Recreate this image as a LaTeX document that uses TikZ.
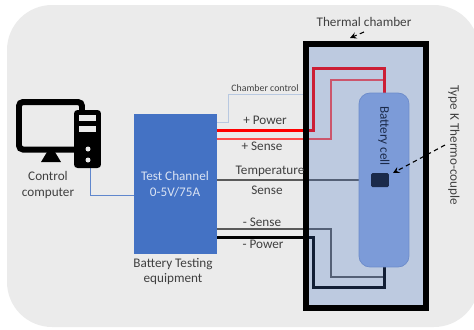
\documentclass[tikz,border=0pt]{standalone}
\usepackage{fontspec}
\setmainfont{Carlito}
\usepackage{xcolor}
\usetikzlibrary{calc, backgrounds}

\definecolor{panelgray}{HTML}{EBEBEB}
\definecolor{boxblue}{HTML}{4472C4}
\definecolor{cellblue}{HTML}{7C9BD8}
\definecolor{celledge}{HTML}{6D8CCB}
\definecolor{sensornavy}{HTML}{1B2A4A}
\definecolor{textgray}{HTML}{404040}
\definecolor{ctrlblue}{HTML}{B8C8E0}
\definecolor{senseline}{HTML}{5A5A5A}

\tikzset{
	lbl/.style = {font = \fontsize{7.5}{9.1}\selectfont, text = textgray, inner sep = 0pt, align = center},
	power wire/.style = {line width = 0.06cm},
	sense wire/.style = {line width = 0.035cm},
	hint/.style = {-stealth, dash pattern = on 0.09cm off 0.07cm, line width = 0.022cm, black}
}

\begin{document}
\begin{tikzpicture}[x = 0.02cm, y = -0.02cm]
			\def\xMAX{474};
			\def\yMAX{329};

			\useasboundingbox (0,0) rectangle (\xMAX,\yMAX);
			\clip (0,0) rectangle (\xMAX,\yMAX);

			% boxes
			\node [fill = boxblue, minimum width = 1.66cm, minimum height = 2.8cm, inner sep = 0pt] (test) at (175.5,184) {};
			\node [fill = black, rounded corners = 0.07cm, minimum width = 0.54cm, minimum height = 1.16cm, inner sep = 0pt] (tower) at (87.5,139) {};
			\node [fill = boxblue, fill opacity = 0.27, draw = black, draw opacity = 1, line width = 0.12cm, minimum width = 2.4cm, minimum height = 5.28cm, inner sep = 0pt] (chamber) at (366,176) {};
			\node [fill = cellblue, draw = celledge, line width = 0.015cm, rounded corners = 0.22cm, minimum width = 1cm, minimum height = 3.48cm, inner sep = 0pt] (cell) at (384,180) {};
			\node [fill = sensornavy, rounded corners = 0.03cm, minimum width = 0.36cm, minimum height = 0.28cm, inner sep = 0pt] (sensor) at (380,180) {};

			% computer
			\draw [black, line width = 0.12cm, rounded corners = 0.08cm] (74,149.5) -- (19,149.5) -- (19,102) -- (82,102) -- (82,112);
			\fill [black] (47,152) -- (55,152) -- (61,162) -- (41,162) -- cycle;
			\fill [panelgray] (79,115) rectangle (96,121);
			\fill [panelgray] (79,126) rectangle (96,132);
			\fill [panelgray] (88,149) circle (2.5);
			\fill [panelgray] (88,160) circle (2.5);

			% labels
			\node [lbl] (pcLbl) at (48,185) {Control\\computer};
			\node [lbl, text = white!80!boxblue] (testLbl) at (175,184.5) {Test Channel\\0-5V/75A};
			\node [lbl] (equipLbl) at (173,271.5) {Battery Testing\\equipment};
			\node [lbl, font = \fontsize{5.6}{7}\selectfont] (ctrlLbl) at (265,88) {Chamber control};
			\node [lbl] (plusPower) at (265,120) {+ Power};
			\node [lbl] (plusSense) at (262,146) {+ Sense};
			\node [lbl] (tempLbl) at (270,171) {Temperature};
			\node [lbl] (senseLbl) at (267,190) {Sense};
			\node [lbl] (minusSense) at (262,222) {- Sense};
			\node [lbl] (minusPower) at (263,244) {- Power};
			\node [lbl] (chamberLbl) at (364,22) {Thermal chamber};
			\node [lbl, rotate = -90] (typeLbl) at (454,145) {Type K Thermo-couple};
			\node [lbl, rotate = -90, text = sensornavy] (cellLbl) at (384,136) {Battery cell};

			\coordinate (powerOut) at (217,130);
			\coordinate (powerTurn) at (313,68);
			\coordinate (senseOut) at (217,139);
			\coordinate (senseTurn) at (331,80);
			\coordinate (minusSenseOut) at (217,229);
			\coordinate (minusSenseTurn) at (331,277);
			\coordinate (minusPowerOut) at (217,237);
			\coordinate (minusPowerTurn) at (313,287);
			\coordinate (ctrlOut) at (217,122);
			\coordinate (ctrlTurn) at (228,94);
			\coordinate (pcPin) at (90,168);
			\coordinate (pcIn) at (134,195);
			\coordinate (chamberFrom) at (364,32);
			\coordinate (chamberTo) at (350,38);
			\coordinate (typeFrom) at (445,145);
			\coordinate (typeTo) at (393,173);

			% wires go under the chamber fill
			\begin{pgfonlayer}{background}
				\fill [panelgray, rounded corners = 0.9cm] (7,5) rectangle (479,327);

				\draw [ctrlblue, line width = 0.02cm] (ctrlOut) -| (ctrlTurn) -- (ctrlTurn -| chamber.west);
				\draw [boxblue!85!white, line width = 0.02cm] (pcPin) |- (pcIn);

				\draw [red!70!white, sense wire] (senseOut) -| (senseTurn) -| (cell.north);
				\draw [red, power wire] (powerOut) -| (powerTurn) -| (cell.north);

				\draw [senseline, sense wire] (sensor.west -| test.east) -- (sensor.west);

				\draw [senseline, sense wire] (minusSenseOut) -| (minusSenseTurn) -| (cell.south);
				\draw [black, power wire] (minusPowerOut) -| (minusPowerTurn) -| (cell.south);
			\end{pgfonlayer}

			\draw [hint] (chamberFrom) -- (chamberTo);
			\draw [hint] (typeFrom) -- (typeTo);
		\end{tikzpicture}
\end{document}
